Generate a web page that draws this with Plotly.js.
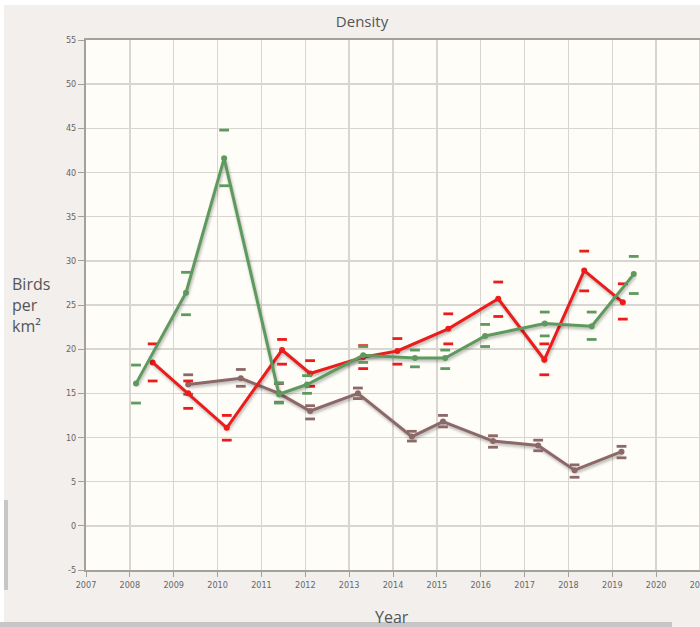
<!DOCTYPE html>
<html>
<head>
<meta charset="utf-8">
<script src="https://cdn.plot.ly/plotly-3.0.1.min.js"></script>
<style>
html, body { margin: 0; padding: 0; background: #ffffff; overflow: hidden; }
#wrap { width: 700px; height: 627px; overflow: hidden; position: relative; }
#chart { width: 720px; height: 627px; }
.scatterlayer .js-line { filter: drop-shadow(1px 2px 1.5px rgba(0,0,0,0.3)); }
</style>
</head>
<body>
<div id="wrap"><div id="chart"></div></div>
<script>
// ---- data ----
const greenX  = [2008.14, 2009.28, 2010.15, 2011.40, 2012.04, 2013.32, 2014.50, 2015.19, 2016.10, 2017.46, 2018.53, 2019.49];
const greenY  = [16.1, 26.4, 41.6, 14.9, 16.0, 19.3, 19.0, 19.0, 21.5, 22.9, 22.6, 28.5];
const greenHi = [18.2, 28.7, 44.8, 16.2, 17.0, 20.3, 19.9, 19.9, 22.8, 24.2, 24.2, 30.5];
const greenLo = [13.9, 23.9, 38.5, 13.9, 15.0, 18.5, 18.0, 17.8, 20.3, 21.5, 21.1, 26.3];

const redX  = [2008.52, 2009.33, 2010.21, 2011.47, 2012.11, 2013.32, 2014.10, 2015.26, 2016.40, 2017.45, 2018.36, 2019.24];
const redY  = [18.5, 15.0, 11.1, 19.9, 17.25, 19.1, 19.8, 22.3, 25.7, 18.8, 28.9, 25.3];
const redHi = [20.6, 16.4, 12.5, 21.1, 18.7, 20.4, 21.2, 24.0, 27.6, 20.6, 31.1, 27.4];
const redLo = [16.4, 13.3, 9.7, 18.3, 15.8, 17.8, 18.3, 20.6, 23.7, 17.1, 26.6, 23.4];

const brownX  = [2009.33, 2010.53, 2011.40, 2012.11, 2013.20, 2014.43, 2015.14, 2016.28, 2017.31, 2018.14, 2019.21];
const brownY  = [16.0, 16.7, 15.0, 13.0, 15.0, 10.1, 11.8, 9.6, 9.1, 6.3, 8.4];
const brownHi = [17.1, 17.7, 16.1, 13.6, 15.6, 10.7, 12.5, 10.2, 9.7, 6.9, 9.0];
const brownLo = [14.9, 15.8, 14.0, 12.1, 14.4, 9.6, 11.2, 8.9, 8.5, 5.5, 7.7];

const yearTicks = [2007, 2008, 2009, 2010, 2011, 2012, 2013, 2014, 2015, 2016, 2017, 2018, 2019, 2020, 2021, 2022];
const valueTicks = [-5, 0, 5, 10, 15, 20, 25, 30, 35, 40, 45, 50, 55];

const titleText = "Density";
const xTitleText = "Year";
const yTitleText = "Birds<br>per<br>km²";

// ---- styles ----
const GREEN = "#5e9a5e", RED = "#ec1c1c", BROWN = "#8c6868";

function seriesTraces(x, y, hi, lo, color) {
  const dash = {
    symbol: "line-ew", size: 7, color: color,
    line: { color: color, width: 2.8 }
  };
  return [
    { x: x, y: y, type: "scatter", mode: "lines+markers",
      line: { color: color, width: 3 },
      marker: { color: color, size: 6 }, hoverinfo: "x+y", showlegend: false },
    { x: x, y: hi, type: "scatter", mode: "markers", marker: dash, hoverinfo: "skip", showlegend: false },
    { x: x, y: lo, type: "scatter", mode: "markers", marker: dash, hoverinfo: "skip", showlegend: false }
  ];
}

const traces = [].concat(
  seriesTraces(brownX, brownY, brownHi, brownLo, BROWN),
  seriesTraces(redX, redY, redHi, redLo, RED),
  seriesTraces(greenX, greenY, greenHi, greenLo, GREEN)
);

// figure is 720 wide, the visible window is 700 wide (right part cut off like the reference)
const L = 86, R = 0, T = 40, B = 57, W = 720, H = 627;
const pw = W - L - R, ph = H - T - B;
const px = v => (v - L) / pw;          // pixel x -> paper x
const py = v => (H - B - v) / ph;      // pixel y -> paper y
const yearPx = 614 / 14;               // pixels per year as in the reference
const xMax = 2007 + pw / yearPx;

const tickFont = { family: "Liberation Sans Narrow, DejaVu Sans Condensed, Arial Narrow, sans-serif", size: 9, color: "#666666" };

const layout = {
  width: W, height: H,
  margin: { l: L, r: R, t: T, b: B, pad: 0 },
  paper_bgcolor: "#f2efec",
  plot_bgcolor: "#fffdf7",
  showlegend: false,
  title: { text: titleText, x: 362 / W, xanchor: "center", xref: "container",
           y: 1 - 22 / H, yanchor: "middle", yref: "container",
           font: { family: "Open Sans, Noto Sans, sans-serif", size: 15, color: "#555555" } },
  xaxis: {
    range: [2007, xMax], tickvals: yearTicks, ticktext: yearTicks.map(String),
    showgrid: true, gridcolor: "#d9d6d1", gridwidth: 1.5,
    showline: true, linecolor: "#a3a19e", linewidth: 2, mirror: true,
    ticks: "outside", ticklen: 5, tickcolor: "#a3a19e", tickwidth: 1,
    tickfont: tickFont, zeroline: false, fixedrange: true
  },
  yaxis: {
    range: [-5, 55], tickvals: valueTicks, ticktext: valueTicks.map(String),
    showgrid: true, gridcolor: "#d9d6d1", gridwidth: 1.5,
    showline: true, linecolor: "#a3a19e", linewidth: 2,
    ticks: "outside", ticklen: 6, tickcolor: "#a3a19e", tickwidth: 1,
    tickfont: tickFont, zeroline: false, fixedrange: true
  },
  annotations: [
    { text: yTitleText, xref: "paper", yref: "paper", x: px(10), y: py(305),
      xanchor: "left", yanchor: "middle", align: "left", showarrow: false,
      font: { family: "Open Sans, Noto Sans, sans-serif", size: 16, color: "#555555" } },
    { text: xTitleText, xref: "paper", yref: "paper", x: px(392), y: py(617),
      xanchor: "center", yanchor: "middle", showarrow: false,
      font: { family: "Open Sans, Noto Sans, sans-serif", size: 16, color: "#555555" } }
  ],
  shapes: [
    // white strip at the very top and left edge
    { type: "rect", xref: "paper", yref: "paper", x0: px(0), x1: px(720), y0: py(0), y1: py(5),
      fillcolor: "#ffffff", line: { width: 0 }, layer: "above" },
    { type: "rect", xref: "paper", yref: "paper", x0: px(0), x1: px(4), y0: py(0), y1: py(627),
      fillcolor: "#ffffff", line: { width: 0 }, layer: "above" },
    // scrollbar remnants
    { type: "rect", xref: "paper", yref: "paper", x0: px(4), x1: px(8), y0: py(500), y1: py(590),
      fillcolor: "#c6c6c6", line: { width: 0 }, layer: "above" },
    { type: "rect", xref: "paper", yref: "paper", x0: px(0), x1: px(672), y0: py(622), y1: py(627),
      fillcolor: "#c6c6c6", line: { width: 0 }, layer: "above" }
  ]
};

Plotly.newPlot("chart", traces, layout, { displayModeBar: false, staticPlot: true });
</script>
</body>
</html>
